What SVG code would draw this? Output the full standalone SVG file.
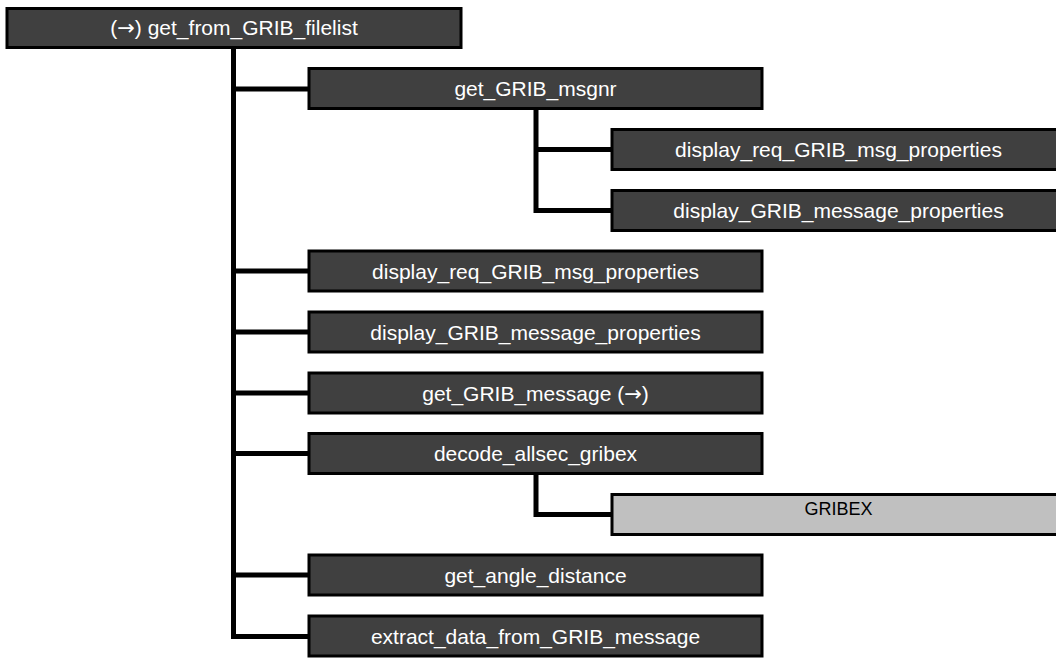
<svg xmlns="http://www.w3.org/2000/svg" width="1056" height="658" viewBox="0 0 1056 658">
<style>
.box{fill:#404040;stroke:#000;stroke-width:3}
.ext{fill:#c0c0c0;stroke:#000;stroke-width:3}
.t{font-family:"Liberation Sans",Arial,sans-serif;font-size:21px;fill:#fff;text-anchor:middle}
.te{font-family:"Liberation Sans",Arial,sans-serif;font-size:18px;fill:#000;text-anchor:middle}
.ar{font-family:"DejaVu Sans",sans-serif}
.c{fill:none;stroke:#000;stroke-width:5}
</style>
<rect width="1056" height="658" fill="#fff"/>
<g id="connectors">
<path class="c" d="M233.5,49 V636.5 H308"/>
<path class="c" d="M233.5,89 H308"/>
<path class="c" d="M233.5,271 H308"/>
<path class="c" d="M233.5,332 H308"/>
<path class="c" d="M233.5,393 H308"/>
<path class="c" d="M233.5,453.5 H308"/>
<path class="c" d="M233.5,575 H308"/>
<path class="c" d="M536,110 V210.5 H611"/>
<path class="c" d="M536,149.5 H611"/>
<path class="c" d="M536,475 V514.5 H611"/>
</g>
<g id="n_root"><rect class="box" x="7" y="8.5" width="454" height="39"/><text class="t" x="234" y="35">(<tspan class="ar">→</tspan>) get_from_GRIB_filelist</text></g>
<g id="n_msgnr"><rect class="box" x="309" y="68.5" width="453" height="40"/><text class="t" x="535.5" y="96">get_GRIB_msgnr</text></g>
<g id="n_sub_req"><rect class="box" x="612" y="129.5" width="453" height="40"/><text class="t" x="838.5" y="157">display_req_GRIB_msg_properties</text></g>
<g id="n_sub_disp"><rect class="box" x="612" y="190.5" width="453" height="40"/><text class="t" x="838.5" y="218">display_GRIB_message_properties</text></g>
<g id="n_req"><rect class="box" x="309" y="251" width="453" height="40"/><text class="t" x="535.5" y="278.5">display_req_GRIB_msg_properties</text></g>
<g id="n_disp"><rect class="box" x="309" y="312" width="453" height="40"/><text class="t" x="535.5" y="339.5">display_GRIB_message_properties</text></g>
<g id="n_msg"><rect class="box" x="309" y="373" width="453" height="40"/><text class="t" x="535.5" y="400.5">get_GRIB_message (<tspan class="ar">→</tspan>)</text></g>
<g id="n_decode"><rect class="box" x="309" y="433.5" width="453" height="40"/><text class="t" x="535.5" y="461">decode_allsec_gribex</text></g>
<g id="n_gribex"><rect class="ext" x="612" y="494.5" width="453" height="40"/><text class="te" x="838.5" y="515">GRIBEX</text></g>
<g id="n_angle"><rect class="box" x="309" y="555" width="453" height="40"/><text class="t" x="535.5" y="582.5">get_angle_distance</text></g>
<g id="n_extract"><rect class="box" x="309" y="616" width="453" height="40"/><text class="t" x="535.5" y="643.5">extract_data_from_GRIB_message</text></g>
</svg>
